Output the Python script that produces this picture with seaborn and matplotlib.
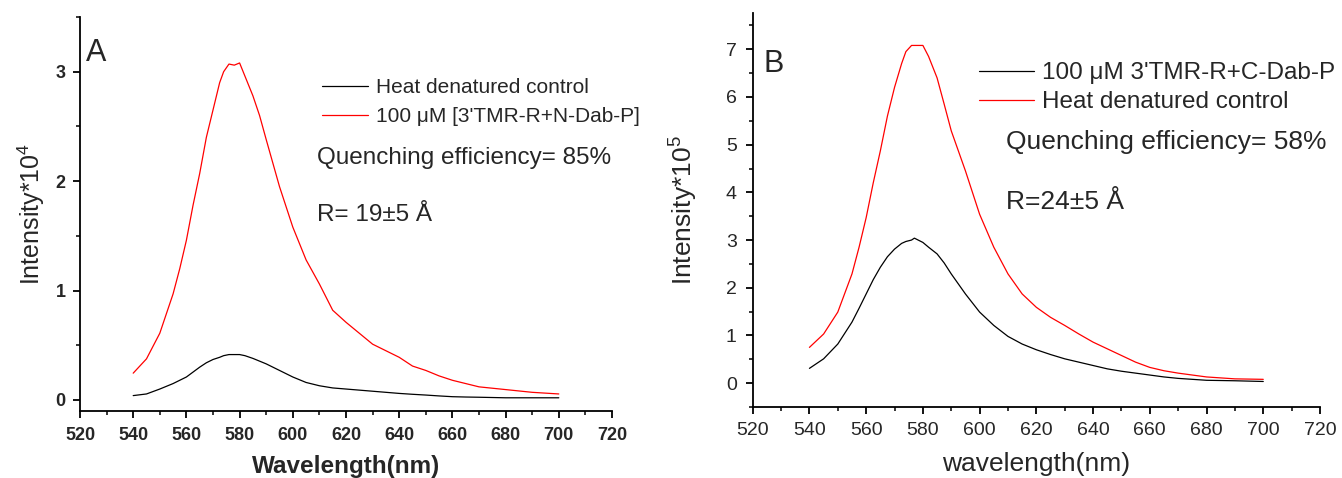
import numpy as np
import pandas as pd
import matplotlib
matplotlib.use("Agg")
import matplotlib.pyplot as plt
import seaborn as sns
from matplotlib.ticker import MultipleLocator

# ---------------- datos ----------------
# Panel A (Intensity * 10^4)
wl_a = [540, 545, 550, 555, 557.5, 560, 562.5, 565, 567.5, 570, 572.5, 574, 576, 578, 580, 582, 585,
        587.5, 590, 595, 600, 605, 610, 615, 620, 625, 630, 635, 640, 645, 650, 655, 660, 665,
        670, 680, 690, 700]
red_a = [0.245, 0.376, 0.61, 0.97, 1.2, 1.46, 1.78, 2.07, 2.4, 2.65, 2.9, 3.0, 3.07, 3.06, 3.08, 2.96, 2.78,
         2.6, 2.38, 1.95, 1.58, 1.28, 1.06, 0.82, 0.71, 0.61, 0.51, 0.45, 0.39, 0.31, 0.27, 0.22, 0.18, 0.15,
         0.12, 0.095, 0.07, 0.055]
black_a = [0.04, 0.055, 0.10, 0.15, 0.18, 0.21, 0.255, 0.30, 0.34, 0.37, 0.39, 0.405, 0.415, 0.415, 0.415, 0.405, 0.38,
           0.355, 0.33, 0.27, 0.21, 0.16, 0.13, 0.11, 0.10, 0.09, 0.08, 0.07, 0.06, 0.052, 0.045, 0.037, 0.03, 0.027,
           0.025, 0.02, 0.02, 0.02]

# Panel B (Intensity * 10^5)
wl_b = [540, 545, 550, 555, 557.5, 560, 562.5, 565, 567.5, 570, 572.5, 574, 576, 577, 580, 582, 585,
        587.5, 590, 595, 600, 605, 610, 615, 620, 625, 630, 635, 640, 645, 650, 655, 660, 665, 670,
        680, 690, 700]
red_b = [0.75, 1.03, 1.49, 2.29, 2.85, 3.47, 4.2, 4.87, 5.6, 6.2, 6.7, 6.95, 7.08, 7.08, 7.08, 6.85, 6.4,
         5.85, 5.29, 4.45, 3.54, 2.85, 2.29, 1.87, 1.59, 1.38, 1.21, 1.03, 0.86, 0.72, 0.58, 0.44, 0.33, 0.26, 0.21,
         0.13, 0.09, 0.08]
black_b = [0.31, 0.51, 0.82, 1.28, 1.57, 1.87, 2.17, 2.43, 2.65, 2.81, 2.93, 2.97, 3.0, 3.04, 2.95, 2.85, 2.71,
           2.52, 2.29, 1.87, 1.49, 1.21, 0.98, 0.82, 0.70, 0.60, 0.51, 0.44, 0.37, 0.30, 0.25, 0.21, 0.17, 0.13, 0.10,
           0.06, 0.05, 0.035]

df_a = pd.DataFrame({"wl": wl_a, "red": red_a, "black": black_a})
df_b = pd.DataFrame({"wl": wl_b, "red": red_b, "black": black_b})

# ---------------- estilo ----------------
sns.set_style("ticks")
plt.rcParams['font.family'] = ['Liberation Sans', 'DejaVu Sans']
plt.rcParams['mathtext.fontset'] = 'custom'
plt.rcParams['mathtext.rm'] = 'Liberation Sans'

W, H = 1342, 478
fig = plt.figure(figsize=(W / 100, H / 100), dpi=100)
ax_a = fig.add_axes([80 / W, 1 - 410.7 / H, 532 / W, 393.7 / H])
ax_b = fig.add_axes([752.7 / W, 1 - 407 / H, 567.3 / W, 394 / H])


def px(x, y):
    # posicion en pixeles -> fraccion de figura
    return x / W, 1 - y / H


def estilo_ejes(ax, ylim, bold, size, xpad, ypad):
    ax.set_xlim(520, 720)
    ax.set_ylim(*ylim)
    ax.xaxis.set_major_locator(MultipleLocator(20))
    ax.xaxis.set_minor_locator(MultipleLocator(10))
    ax.yaxis.set_major_locator(MultipleLocator(1))
    ax.yaxis.set_minor_locator(MultipleLocator(0.5))
    sns.despine(ax=ax)
    for s in ["left", "bottom"]:
        ax.spines[s].set_linewidth(1.3)
        ax.spines[s].set_color("black")
    ax.tick_params(which="major", direction="out", length=5, width=1.3, color="black",
                   labelsize=size)
    ax.tick_params(which="minor", direction="out", length=3, width=1.1, color="black")
    ax.tick_params(axis="x", which="major", pad=xpad)
    ax.tick_params(axis="y", which="major", pad=ypad)
    for lab in ax.get_xticklabels() + ax.get_yticklabels():
        lab.set_fontweight("bold" if bold else "normal")


# ---------------- Panel A ----------------
sns.lineplot(data=df_a, x="wl", y="black", color="black", lw=0.9, ax=ax_a,
             label="Heat denatured control")
sns.lineplot(data=df_a, x="wl", y="red", color="red", lw=0.9, ax=ax_a,
             label="100 μM [3'TMR-R+N-Dab-P]")
estilo_ejes(ax_a, (-0.098, 3.5), True, 13, 6.5, 5.5)
ax_a.set_xlabel("Wavelength(nm)", fontsize=17.5, fontweight="bold", labelpad=8)
ax_a.set_ylabel("Intensity*10$^{4}$", fontsize=18, labelpad=6)
ax_a.legend(loc="upper left", bbox_to_anchor=px(322, 78), bbox_transform=fig.transFigure,
            frameon=False, fontsize=15, handlelength=2.2, handletextpad=0.38,
            labelspacing=0.5, borderpad=0, borderaxespad=0)
fig.text(*px(86, 53), "A", fontsize=22, va="center", ha="left")
fig.text(*px(317, 158), "Quenching efficiency= 85%", fontsize=17.5, va="center", ha="left")
fig.text(*px(317, 215), "R= 19±5 Å", fontsize=17.5, va="center", ha="left")

# ---------------- Panel B ----------------
sns.lineplot(data=df_b, x="wl", y="black", color="black", lw=0.9, ax=ax_b,
             label="100 μM 3'TMR-R+C-Dab-P")
sns.lineplot(data=df_b, x="wl", y="red", color="red", lw=0.9, ax=ax_b,
             label="Heat denatured control")
estilo_ejes(ax_b, (-0.5, 7.76), False, 14, 5.8, 6.5)
ax_b.set_xlabel("wavelength(nm)", fontsize=19, labelpad=9.5)
ax_b.set_ylabel("Intensity*10$^{5}$", fontsize=19, labelpad=19)
ax_b.legend(loc="upper left", bbox_to_anchor=px(979, 62), bbox_transform=fig.transFigure,
            frameon=False, fontsize=17.5, handlelength=2.26, handletextpad=0.33,
            labelspacing=0.3, borderpad=0, borderaxespad=0)
fig.text(*px(763, 64), "B", fontsize=22, va="center", ha="left")
fig.text(*px(1006, 142), "Quenching efficiency= 58%", fontsize=19, va="center", ha="left")
fig.text(*px(1006, 202), "R=24±5 Å", fontsize=19, va="center", ha="left")

plt.savefig("out.png", dpi=100)
